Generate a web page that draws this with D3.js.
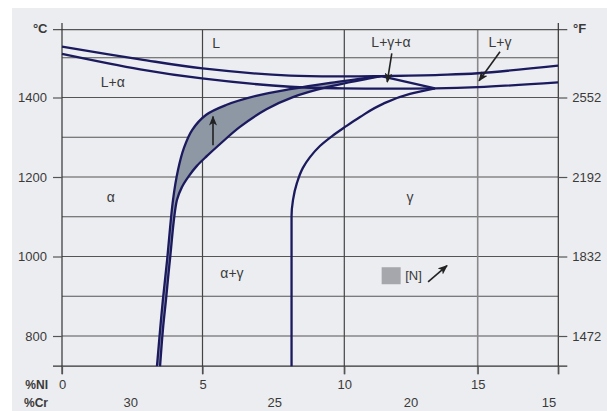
<!DOCTYPE html>
<html>
<head>
<meta charset="utf-8">
<script src="https://cdn.jsdelivr.net/npm/d3@7"></script>
<style>
body { margin: 0; background: #fff; }
svg text { font-family: "Liberation Sans", Arial, sans-serif; fill: #3a3a3a; }
</style>
</head>
<body>
<svg id="chart" width="607" height="411"></svg>
<script>
// Phase boundaries: %Ni and temperature in °C
var liquidusNi = [0, 2.78, 5.0, 8.09, 10.03, 11.38, 13.59, 15.01, 17.99];
var liquidusT  = [1528, 1496, 1473, 1455, 1453, 1454, 1457, 1461, 1480];

var solidusNi = [0, 2.78, 4.98, 8.09, 9.95, 13.40, 15.01, 17.99];
var solidusT  = [1510, 1471, 1448, 1427, 1423, 1423, 1426, 1438];

// shaded band, left (alpha) edge and right edge
var alphaEdgeNi = [3.38, 3.49, 3.59, 3.74, 3.95, 4.13, 4.34, 4.63, 5.12, 5.83, 6.89, 8.09, 9.50, 11.38];
var alphaEdgeT  = [724, 815, 891, 991, 1142, 1218, 1273, 1318, 1356, 1381, 1404, 1421, 1437, 1454];
var bandEdgeNi  = [3.49, 3.59, 3.70, 3.84, 4.09, 4.27, 4.52, 4.80, 5.16, 5.62, 6.32, 7.27, 8.19, 9.39, 11.38];
var bandEdgeT   = [724, 815, 891, 991, 1142, 1175, 1203, 1228, 1253, 1283, 1326, 1371, 1401, 1426, 1454];

var gammaNi = [8.14, 8.14, 8.14, 8.14, 8.19, 8.33, 8.54, 8.79, 9.14, 9.57, 10.03, 10.59, 11.45, 12.46, 13.40];
var gammaT  = [724, 891, 1041, 1102, 1142, 1185, 1223, 1250, 1278, 1303, 1326, 1351, 1384, 1409, 1423];

var triangleNi = [11.38, 13.40];
var triangleT  = [1454, 1423];

// axes
var celsiusTicks = [800, 1000, 1200, 1400];
var fahrenheitTicks = [1472, 1832, 2192, 2552];
var gridT = [800, 900, 1000, 1100, 1200, 1300, 1400, 1500];
var niTicks = [0, 5, 10, 15];
var crTicks = [30, 25, 20, 15];
var crAtNi = [2.45, 7.55, 12.5, 17.65];
var tTop = 1571, tBottom = 724, niMax = 18;

// region labels
var regionNames = ["L", "L+γ+α", "L+γ", "L+α", "α", "γ", "α+γ"];
var regionNi = [5.48, 11.75, 15.83, 1.81, 1.74, 12.46, 6.04];
var regionT  = [1537, 1540, 1540, 1439, 1150, 1150, 958];

// arrows [tailNi, tailT, tipNi, tipT]
var arrows = [
  [5.37, 1280, 5.37, 1352],
  [11.78, 1511, 11.61, 1439],
  [15.83, 1515, 15.05, 1442],
  [13.14, 936, 13.85, 977]
];

var svg = d3.select("#chart");

var x = d3.scaleLinear()
  .domain([0, 5, 10, 15, 18])
  .range([62, 202.5, 344.3, 477.7, 558.3]);

var y = d3.scaleLinear()
  .domain([700, 1600])
  .range([375.75, 18]);

var yF = d3.scaleLinear()
  .domain([700 * 1.8 + 32, 1600 * 1.8 + 32])
  .range([375.75, 18]);

// background panel
svg.append("rect")
  .attr("x", 12).attr("y", 8)
  .attr("width", 595).attr("height", 403)
  .attr("fill", "#ecedf0");

// --- grid ---
var grid = svg.append("g").attr("stroke", "#555").attr("stroke-width", 1.2);

grid.selectAll(".h").data(gridT).enter().append("line")
  .attr("x1", x(0)).attr("x2", x(niMax))
  .attr("y1", function(d) { return y(d); })
  .attr("y2", function(d) { return y(d); });

grid.selectAll(".v").data([5, 10, 15]).enter().append("line")
  .attr("x1", function(d) { return x(d); })
  .attr("x2", function(d) { return x(d); })
  .attr("y1", y(tTop)).attr("y2", y(tBottom) + 8)
  .attr("stroke", function(d) { return d == 15 ? "#888" : "#444"; })
  .attr("stroke-width", function(d) { return d == 15 ? 1.6 : 1.2; });

// frame: top, bottom, left, right
grid.append("line").attr("x1", x(0) - 9).attr("x2", x(niMax) + 9)
  .attr("y1", y(tTop)).attr("y2", y(tTop));
grid.append("line").attr("x1", x(0) - 9).attr("x2", x(niMax) + 9)
  .attr("y1", y(tBottom)).attr("y2", y(tBottom)).attr("stroke", "#333");
[0, niMax].forEach(function(n) {
  grid.append("line").attr("x1", x(n)).attr("x2", x(n))
    .attr("y1", y(tTop) - 6.5).attr("y2", y(tBottom) + 8).attr("stroke", "#333");
});

// --- axes ---
var yAxis = d3.axisLeft(y).tickValues(celsiusTicks).tickSize(9).tickPadding(6)
  .tickFormat(d3.format("d"));
var gy = svg.append("g").attr("transform", "translate(" + x(0) + ",0)").call(yAxis);

var fAxis = d3.axisRight(yF).tickValues(fahrenheitTicks).tickSize(9).tickPadding(5)
  .tickFormat(d3.format("d"));
var gf = svg.append("g").attr("transform", "translate(" + x(niMax) + ",0)").call(fAxis);

var xAxis = d3.axisBottom(x).tickValues(niTicks.concat([niMax])).tickSize(8).tickPadding(6)
  .tickFormat(function(d) { return d == niMax ? "" : d; });
var gx = svg.append("g").attr("transform", "translate(0," + y(tBottom) + ")").call(xAxis);

[gy, gf, gx].forEach(function(g) {
  g.select(".domain").remove();
  g.selectAll(".tick line").attr("stroke", "#555").attr("stroke-width", 1.2);
  g.selectAll(".tick text").attr("font-size", 13).attr("fill", "#3a3a3a")
    .style("font-family", "'Liberation Sans', Arial, sans-serif");
});

svg.selectAll(".cr").data(crTicks).enter().append("text")
  .attr("x", function(d, i) { return x(crAtNi[i]); })
  .attr("y", 407)
  .attr("text-anchor", "middle")
  .attr("font-size", 13)
  .text(function(d) { return d; });

svg.append("text").attr("x", 48).attr("y", 389).attr("text-anchor", "end")
  .attr("font-size", 12).attr("font-weight", "bold").text("%NI");
svg.append("text").attr("x", 24).attr("y", 407)
  .attr("font-size", 12).attr("font-weight", "bold").text("%Cr");
svg.append("text").attr("x", 47.5).attr("y", 32.5).attr("text-anchor", "end")
  .attr("font-size", 13).attr("font-weight", "bold").text("°C");
svg.append("text").attr("x", 573).attr("y", 33)
  .attr("font-size", 13).attr("font-weight", "bold").text("°F");

// --- phase boundaries ---
function pts(ni, t) { return ni.map(function(n, i) { return [x(n), y(t[i])]; }); }
var lineC = d3.line().curve(d3.curveCatmullRom.alpha(0.5));
var lineY = d3.line().curve(d3.curveMonotoneY);

var upper = pts(alphaEdgeNi, alphaEdgeT);
var lower = pts(bandEdgeNi, bandEdgeT);
var bandPath = lineC(upper) + "L" + lineC(lower.slice().reverse()).slice(1) + "Z";

svg.append("path").attr("d", bandPath).attr("fill", "#8e97a4");

var curves = [
  lineC(pts(liquidusNi, liquidusT)),
  lineC(pts(solidusNi, solidusT)),
  lineC(upper),
  lineC(lower),
  lineY(pts(gammaNi, gammaT)),
  d3.line()(pts(triangleNi, triangleT))
];
svg.selectAll(".curve").data(curves).enter().append("path")
  .attr("d", function(d) { return d; })
  .attr("fill", "none")
  .attr("stroke", "#1b1a5e")
  .attr("stroke-width", 2.3)
  .attr("stroke-linejoin", "round");

// --- labels ---
svg.selectAll(".region").data(regionNames).enter().append("text")
  .attr("x", function(d, i) { return x(regionNi[i]); })
  .attr("y", function(d, i) { return y(regionT[i]); })
  .attr("dy", "0.35em")
  .attr("text-anchor", "middle")
  .attr("font-size", 14)
  .text(function(d) { return d; });

// legend
svg.append("rect")
  .attr("x", x(11.4)).attr("y", y(973))
  .attr("width", 19).attr("height", 17)
  .attr("fill", "#a5a7ac");
svg.append("text").attr("x", x(12.28)).attr("y", y(953)).attr("dy", "0.35em")
  .attr("font-size", 13).attr("fill", "#2d3766").text("[N]");

// arrows
svg.append("defs").append("marker")
  .attr("id", "head").attr("viewBox", "0 0 10 8")
  .attr("refX", 9).attr("refY", 4)
  .attr("markerWidth", 10).attr("markerHeight", 8)
  .attr("markerUnits", "userSpaceOnUse")
  .attr("orient", "auto")
  .append("path").attr("d", "M0,0L10,4L0,8L2.5,4Z").attr("fill", "#222");

svg.selectAll(".arrow").data(arrows).enter().append("line")
  .attr("x1", function(d) { return x(d[0]); })
  .attr("y1", function(d) { return y(d[1]); })
  .attr("x2", function(d) { return x(d[2]); })
  .attr("y2", function(d) { return y(d[3]); })
  .attr("stroke", "#222")
  .attr("stroke-width", 1.6)
  .attr("marker-end", "url(#head)");
</script>
</body>
</html>
